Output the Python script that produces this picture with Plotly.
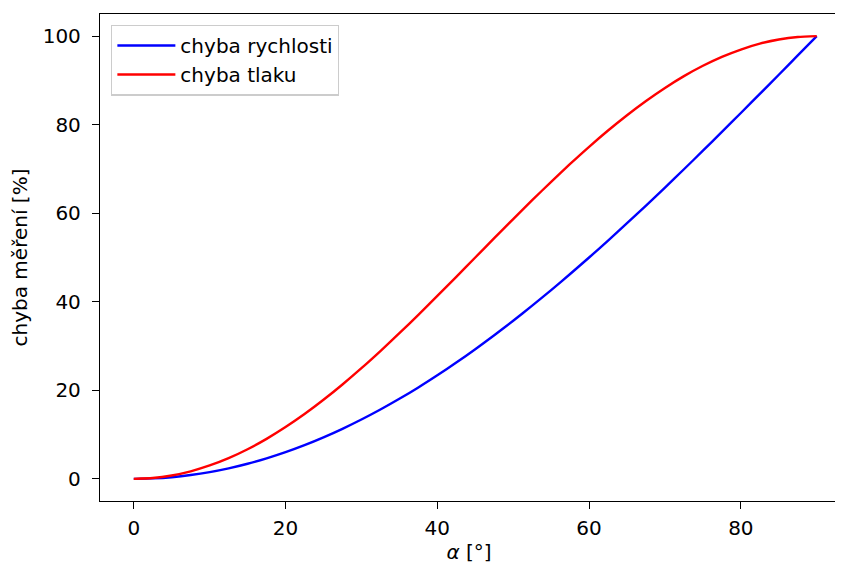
import plotly.graph_objects as go

alpha = [0, 2.5, 5, 7.5, 10, 12.5, 15, 17.5, 20, 22.5, 25, 27.5, 30, 32.5, 35, 37.5,
         40, 42.5, 45, 47.5, 50, 52.5, 55, 57.5, 60, 62.5, 65, 67.5, 70, 72.5, 75,
         77.5, 80, 82.5, 85, 87.5, 90]
chyba_rychlosti = [0, 0.10, 0.38, 0.86, 1.52, 2.37, 3.41, 4.63, 6.03, 7.61, 9.37,
                   11.30, 13.40, 15.66, 18.08, 20.66, 23.40, 26.27, 29.29, 32.44,
                   35.72, 39.12, 42.64, 46.27, 50.00, 53.83, 57.74, 61.73, 65.80,
                   69.93, 74.12, 78.36, 82.64, 86.95, 91.28, 95.64, 100.0]
chyba_tlaku = [0, 0.19, 0.76, 1.70, 3.02, 4.68, 6.70, 9.04, 11.70, 14.64, 17.86,
               21.32, 25.00, 28.87, 32.90, 37.06, 41.32, 45.64, 50.00, 54.36,
               58.68, 62.94, 67.10, 71.13, 75.00, 78.68, 82.14, 85.36, 88.30,
               90.96, 93.30, 95.32, 96.98, 98.30, 99.24, 99.81, 100.0]
x_ticks = [0, 20, 40, 60, 80]
y_ticks = [0, 20, 40, 60, 80, 100]

fig = go.Figure()
fig.add_trace(go.Scatter(x=alpha, y=chyba_rychlosti, mode="lines", name="chyba rychlosti",
                         line=dict(color="#0000ff", width=2.4, shape="spline", smoothing=0.6)))
fig.add_trace(go.Scatter(x=alpha, y=chyba_tlaku, mode="lines", name="chyba tlaku",
                         line=dict(color="#ff0000", width=2.4, shape="spline", smoothing=0.6)))

font = dict(family="DejaVu Sans", size=20, color="black")
fig.update_layout(
    width=835, height=559,
    margin=dict(l=92, r=5, t=6, b=66),
    paper_bgcolor="white", plot_bgcolor="white",
    font=font,
    xaxis=dict(range=[-4.45, 92.8], tickvals=x_ticks, showgrid=False, zeroline=False,
               showline=True, linecolor="black", linewidth=1.3, mirror=True,
               ticks="outside", ticklen=7, tickwidth=1.3, tickcolor="black",
               ticklabelstandoff=2,
               title=dict(text="<i>α</i> [°]", standoff=4, font=font)),
    yaxis=dict(range=[-5, 105], tickvals=y_ticks, showgrid=False, zeroline=False,
               showline=True, linecolor="black", linewidth=1.3, mirror=False,
               ticks="outside", ticklen=7, tickwidth=1.3, tickcolor="black",
               ticklabelstandoff=7,
               title=dict(text="chyba měření [%]", standoff=12, font=font)),
    legend=dict(x=0.015, y=0.978, xanchor="left", yanchor="top",
                bgcolor="rgba(255,255,255,0.8)", bordercolor="#cccccc", borderwidth=1.3,
                font=dict(family="DejaVu Sans", size=20, color="black"),
                itemwidth=58, tracegroupgap=2),
    showlegend=True,
)

fig.write_html("out.html")
